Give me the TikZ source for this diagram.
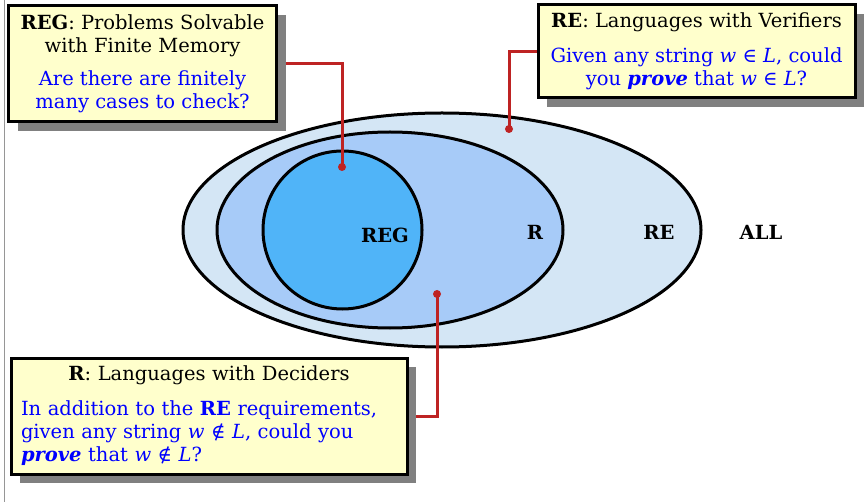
\documentclass[tikz,border=0pt]{standalone}
\usepackage{fontspec}
\setmainfont{DejaVu Serif}
\usetikzlibrary{shadows,backgrounds}

\definecolor{boxfill}{RGB}{255,255,204}
\definecolor{outerfill}{RGB}{212,230,245}
\definecolor{midfill}{RGB}{167,203,248}
\definecolor{innerfill}{RGB}{80,180,248}
\definecolor{linkred}{RGB}{190,35,35}
\definecolor{shadowgray}{RGB}{128,128,128}
\definecolor{txtblue}{RGB}{0,0,255}
\definecolor{edgegray}{RGB}{150,150,150}

\begin{document}
\begin{tikzpicture}[x=1pt,y=-1pt,
  infobox/.style={draw=black, line width=3pt, fill=boxfill, inner sep=0pt,
    drop shadow={shadow xshift=9pt, shadow yshift=-9pt, fill=shadowgray, opacity=1},
    font=\fontsize{19.5}{23}\selectfont},
  setlabel/.style={font=\fontsize{19.5}{23}\selectfont\bfseries, inner sep=0pt},
  setline/.style={draw=black, line width=3pt},
  link/.style={draw=linkred, line width=3pt},
  linkdot/.style={fill=linkred, draw=none},
]
\useasboundingbox (0,0) rectangle (864,502);

% thin page edge on the left
\draw[edgegray, line width=1pt] (4.5,0) -- (4.5,502);

% explanation boxes
\node[infobox, minimum width=268pt, minimum height=116pt, align=center]
  (regbox) at (142.5,64)
  {\textbf{REG}: Problems Solvable\\with Finite Memory\\[10pt]
   \textcolor{txtblue}{Are there are finitely}\\
   \textcolor{txtblue}{many cases to check?}};

\node[infobox, minimum width=317pt, minimum height=93pt, align=center]
  (rebox) at (696.5,51.5)
  {\textbf{RE}: Languages with Verifiers\\[12pt]
   \textcolor{txtblue}{Given any string \textit{w} ∈ \textit{L}, could}\\
   \textcolor{txtblue}{you \textbf{\textit{prove}} that \textit{w} ∈ \textit{L}?}};

\node[infobox, minimum width=396pt, minimum height=116pt, text width=376pt, align=left]
  (rbox) at (209,416)
  {\centering\textbf{R}: Languages with Deciders\par\vspace{12pt}
   \raggedright\color{txtblue}In addition to the \textbf{RE} requirements,\\
   given any string \textit{w} ∉ \textit{L}, could you\\
   \textbf{\textit{prove}} that \textit{w} ∉ \textit{L}?\par};

% nested language classes
\begin{scope}[on background layer]
  \path[setline, fill=outerfill] (442,230) ellipse [x radius=259pt, y radius=117pt];
  \path[setline, fill=midfill] (390,230) ellipse [x radius=173pt, y radius=98pt];
  \path[setline, fill=innerfill] (342.5,230) ellipse [x radius=79.5pt, y radius=79pt];

  \coordinate (regdot) at (342,167);
  \coordinate (redot) at (509,129);
  \coordinate (rdot) at (437,294);

  \draw[link] (regbox.east) -| (regdot);
  \draw[link] (rebox.west) -| (redot);
  \draw[link] (rbox.east) -| (rdot);
  \fill[linkdot] (regdot) circle [radius=4pt];
  \fill[linkdot] (redot) circle [radius=4pt];
  \fill[linkdot] (rdot) circle [radius=4pt];
\end{scope}

\node[setlabel] (lreg) at (385,235) {REG};
\node[setlabel] (lr) at (535,232) {R};
\node[setlabel] (lre) at (659,232) {RE};
\node[setlabel] (lall) at (761,232) {ALL};
\end{tikzpicture}
\end{document}
